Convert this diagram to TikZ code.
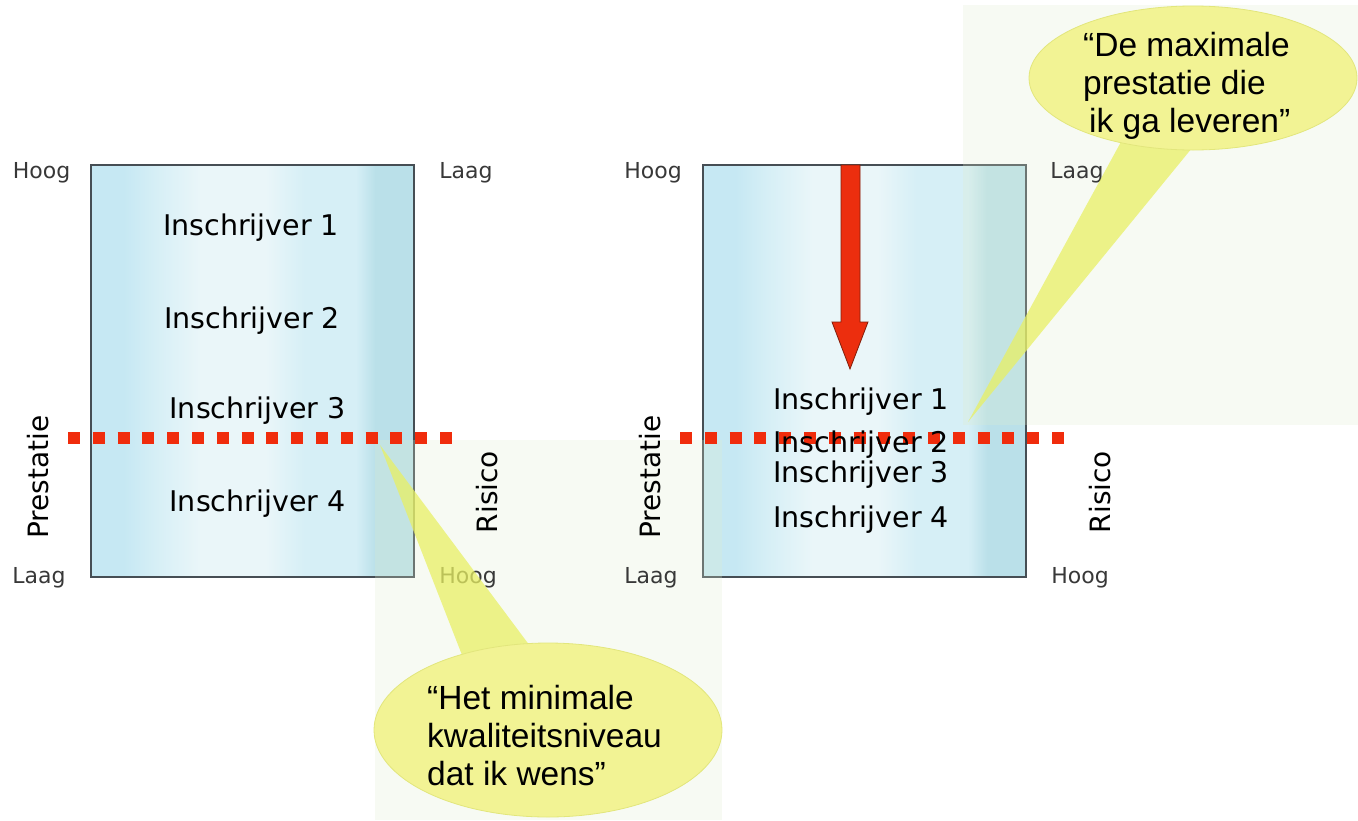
\documentclass[tikz,border=0pt]{standalone}
\usepackage{fontspec}
\setmainfont{DejaVu Sans}
\newfontfamily\balloonfont{Liberation Sans}
\usetikzlibrary{shapes.geometric}

\definecolor{boxline}{RGB}{70,78,84}
\definecolor{bandA}{RGB}{198,232,243}
\definecolor{bandB}{RGB}{214,239,246}
\definecolor{bandC}{RGB}{234,246,249}
\definecolor{bandD}{RGB}{186,224,233}
\definecolor{dotred}{RGB}{240,44,12}
\definecolor{arrowred}{RGB}{236,46,14}
\definecolor{arrowrim}{RGB}{130,30,10}
\definecolor{balloonfill}{RGB}{242,243,148}
\definecolor{balloonrim}{RGB}{226,230,124}
\definecolor{tailfill}{RGB}{232,240,100}
\definecolor{hazecol}{RGB}{222,236,206}

\pgfdeclarehorizontalshading{bands}{100bp}{color(0bp)=(bandA); color(25bp)=(bandA); color(30bp)=(bandA); color(35bp)=(bandB); color(42bp)=(bandC); color(52bp)=(bandC); color(58bp)=(bandB); color(66bp)=(bandB); color(69bp)=(bandD); color(75bp)=(bandD); color(100bp)=(bandD)}

\begin{document}
\begin{tikzpicture}[x=1pt,y=-1pt,
    plane/.style={draw=boxline, line width=1.6pt, shade, shading=bands, minimum width=323pt, minimum height=412pt, inner sep=0pt},
    corner/.style={font=\fontsize{22}{26}\selectfont, text=black!78, anchor=base},
    axislabel/.style={font=\fontsize{28}{32}\selectfont, rotate=90},
    bidder/.style={font=\fontsize{28.5}{34}\selectfont, anchor=base},
    cutoff/.style={dotred, line width=12pt, dash pattern=on 12pt off 12.8pt},
    haze/.style={fill=hazecol, fill opacity=0.25},
    balloon/.style={ellipse, fill=balloonfill, draw=balloonrim, line width=0.8pt, inner sep=0pt},
    balloontext/.style={anchor=west, align=left, inner sep=0pt, font=\balloonfont\fontsize{33.5}{38}\selectfont},
    tail/.style={fill=tailfill, fill opacity=0.75}]
  %tikz  aanbesteding, prestatie tegen risico
    \useasboundingbox (0,0) rectangle (1358,820);
    \node[plane] (lplane) at (252.5,371) {};
    \node[plane] (rplane) at (864.5,371) {};
    \fill[haze] (375,440) rectangle (722,820);
    \fill[haze] (963,5) rectangle (1358,425);
    \draw[cutoff] (68,438) -- (452,438);
    \draw[cutoff] (680,438) -- (1064,438);
    % hoeken
    \node[corner] (lhigh) at (41.5,178) {Hoog};
    \node[corner] (lrlow) at (466,178) {Laag};
    \node[corner] (llow) at (39,583) {Laag};
    \node[corner] (lrhigh) at (468,583) {Hoog};
    \node[corner] (rhigh) at (653,178) {Hoog};
    \node[corner] (rrlow) at (1077,178) {Laag};
    \node[corner] (rlow) at (651,583) {Laag};
    \node[corner] (rrhigh) at (1080,583) {Hoog};
    \node[axislabel] (lperf) at (38.5,477) {Prestatie};
    \node[axislabel] (lrisk) at (487,492) {Risico};
    \node[axislabel] (rperf) at (650.5,477) {Prestatie};
    \node[axislabel] (rrisk) at (1100,492) {Risico};
    % inschrijvers
    \node[bidder] (l1) at (251,235) {Inschrijver 1};
    \node[bidder] (l2) at (252,328) {Inschrijver 2};
    \node[bidder] (l3) at (257.5,418) {Inschrijver 3};
    \node[bidder] (l4) at (257.5,511) {Inschrijver 4};
    \node[bidder] (r1) at (861,409) {Inschrijver 1};
    \node[bidder] (r2) at (861,452) {Inschrijver 2};
    \node[bidder] (r3) at (861,482) {Inschrijver 3};
    \node[bidder] (r4) at (861,527) {Inschrijver 4};
    \draw[fill=arrowred, draw=arrowrim, line width=0.8pt] (841,165) -- (860,165) -- (860,322) -- (868,322) -- (850,369) -- (832,322) -- (841,322) -- cycle;
    % ballonnen
    \coordinate (lowtip) at (380,445);
    \coordinate (hightip) at (968,422);
    \fill[tail] (lowtip) -- (462,655) -- (533,650) -- cycle;
    \fill[tail] (hightip) -- (1122,140) -- (1192,148) -- cycle;
    \node[balloon, minimum width=348pt, minimum height=174pt] (lowballoon) at (548,730) {};
    \node[balloon, minimum width=328pt, minimum height=144pt] (highballoon) at (1193,78) {};
    \node[balloontext] (lowtext) at (427,736) {“Het minimale\\kwaliteitsniveau\\dat ik wens”};
    \node[balloontext] (hightext) at (1083,86) {“De maximale\\prestatie die\\\hspace{6pt}ik ga leveren”};
  \end{tikzpicture}
\end{document}
